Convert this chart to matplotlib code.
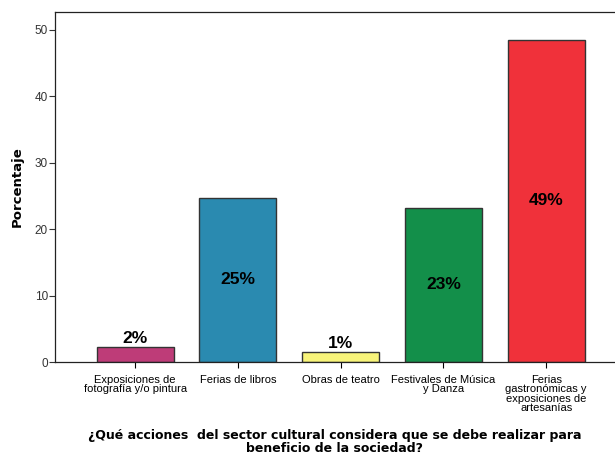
import numpy as np
import matplotlib.pyplot as plt

# datos del grafico
categorias = ['Exposiciones de\nfotografía y/o pintura', 'Ferias de libros', 'Obras de teatro',
              'Festivales de Música\ny Danza', 'Ferias\ngastronómicas y\nexposiciones de\nartesanías']
porcentajes = [2.3, 24.7, 1.5, 23.2, 48.5]
etiquetas = ['2%', '25%', '1%', '23%', '49%']
colores = ['#BE3C78', '#2A8AB0', '#F8F47A', '#138F4A', '#F0313A']

fig = plt.figure(figsize=(6.15, 4.54), dpi=100)
ax = fig.add_axes([0.0894, 0.2026, 0.9106, 0.771])

x = np.arange(len(categorias))
bars = ax.bar(x, porcentajes, width=0.75, color=colores, edgecolor='#333333', linewidth=1)

for i, (b, lab) in enumerate(zip(bars, etiquetas)):
    h = b.get_height()
    if h < 5:
        ax.text(b.get_x() + b.get_width() / 2, h + 0.1, lab, ha='center', va='bottom',
                fontsize=12.5, fontweight='bold', family='Liberation Sans')
    else:
        ax.text(b.get_x() + b.get_width() / 2, h / 2, lab, ha='center', va='center',
                fontsize=12.5, fontweight='bold', family='Liberation Sans')

ax.set_xlim(-0.78, 4.67)
ax.set_ylim(0, 52.7)
ax.set_yticks([0, 10, 20, 30, 40, 50])
ax.set_xticks(x)
ax.set_xticklabels(categorias, fontsize=8, family='Liberation Sans', linespacing=0.95)
ax.tick_params(axis='y', labelsize=8.5, length=4, pad=1, colors='#333333')
ax.tick_params(axis='x', length=4, pad=5)
for lbl in ax.get_yticklabels():
    lbl.set_family('Liberation Sans')

ax.spines['right'].set_visible(False)
for s in ['left', 'bottom', 'top']:
    ax.spines[s].set_color('#222222')
    ax.spines[s].set_linewidth(0.9)

ax.set_ylabel('Porcentaje', fontsize=9.5, fontweight='bold', labelpad=8)
ax.set_xlabel('¿Qué acciones  del sector cultural considera que se debe realizar para\nbeneficio de la sociedad?',
              fontsize=9, fontweight='bold', labelpad=11, linespacing=1.05)

fig.savefig('out.png', dpi=100)
